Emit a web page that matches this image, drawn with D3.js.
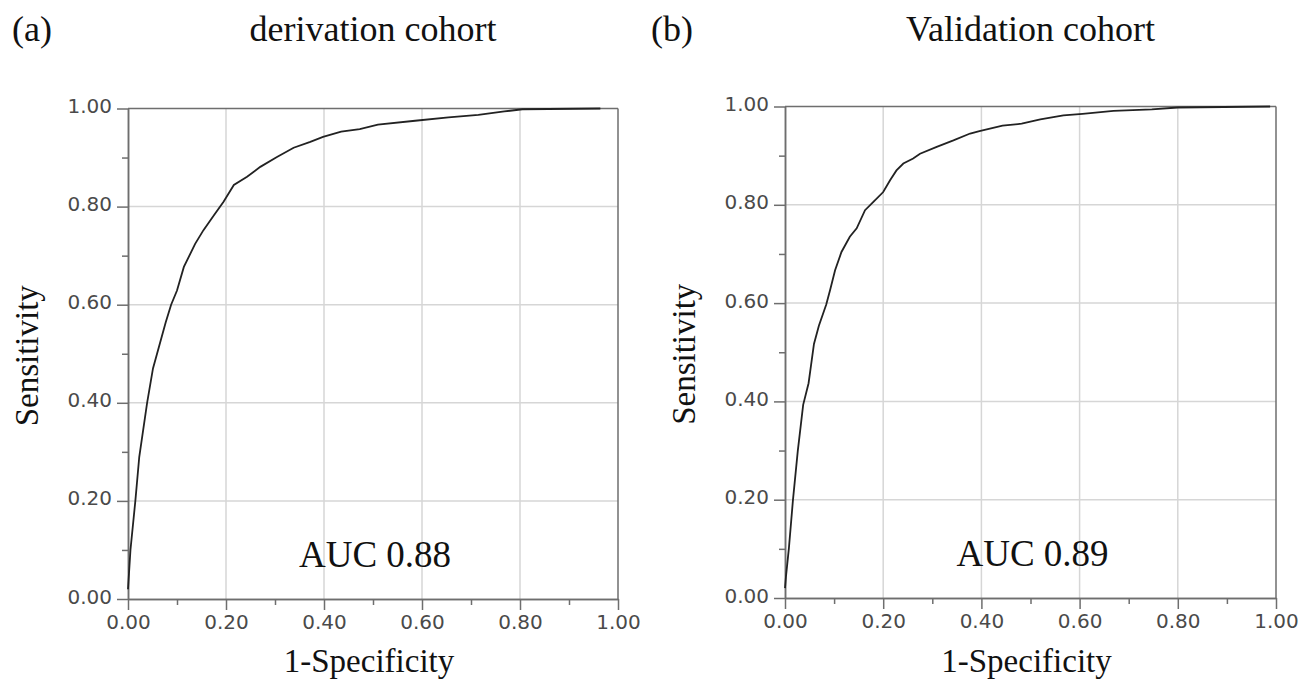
<!DOCTYPE html>
<html>
<head>
<meta charset="utf-8">
<script src="https://cdn.jsdelivr.net/npm/d3@7"></script>
<style>
  body { margin: 0; background: #fff; }
  svg { display: block; }
</style>
</head>
<body>
<svg id="chart" width="1307" height="689"></svg>
<script>
// ROC curve points: 1-specificity (fpr) and sensitivity (tpr)
var derivFpr = [0, 0.005, 0.015, 0.023, 0.039, 0.051, 0.077, 0.088, 0.1, 0.114, 0.137, 0.154, 0.175, 0.195,
  0.216, 0.243, 0.27, 0.304, 0.338, 0.372, 0.398, 0.435, 0.473, 0.51, 0.586, 0.654, 0.715, 0.768, 0.805, 0.964];
var derivTpr = [0.02, 0.1, 0.2, 0.29, 0.4, 0.47, 0.564, 0.6, 0.629, 0.677, 0.724, 0.752, 0.782, 0.81,
  0.844, 0.861, 0.881, 0.901, 0.92, 0.932, 0.942, 0.953, 0.958, 0.967, 0.975, 0.982, 0.987, 0.994, 0.9985, 1.0];

var validFpr = [0, 0.002, 0.008, 0.016, 0.026, 0.037, 0.048, 0.059, 0.069, 0.084, 0.092, 0.102, 0.115, 0.132,
  0.146, 0.163, 0.18, 0.2, 0.214, 0.227, 0.241, 0.261, 0.275, 0.309, 0.343, 0.377, 0.396, 0.443, 0.482, 0.52,
  0.567, 0.606, 0.669, 0.747, 0.8, 0.988];
var validTpr = [0.02, 0.044, 0.102, 0.197, 0.299, 0.393, 0.437, 0.517, 0.554, 0.597, 0.627, 0.667, 0.704, 0.735,
  0.752, 0.789, 0.806, 0.826, 0.85, 0.87, 0.884, 0.894, 0.904, 0.918, 0.931, 0.945, 0.95, 0.961, 0.965, 0.974,
  0.982, 0.985, 0.991, 0.994, 0.998, 1.0];

var panelLetters = ["(a)", "(b)"];
var panelTitles = ["derivation cohort", "Validation cohort"];
var aucLabels = ["AUC 0.88", "AUC 0.89"];
var majorTicks = [0, 0.2, 0.4, 0.6, 0.8, 1.0];
var minorTicks = [0.1, 0.3, 0.5, 0.7, 0.9];
var xLabel = "1-Specificity";
var yLabel = "Sensitivity";

var panels = [
  { fpr: derivFpr, tpr: derivTpr, left: 128, right: 618, top: 108.5, bottom: 599, letterX: 12 },
  { fpr: validFpr, tpr: validTpr, left: 785, right: 1276, top: 106.5, bottom: 598, letterX: 651 }
];

var svg = d3.select("#chart");
var serif = "'Liberation Serif', 'Times New Roman', serif";
var tickFont = "'DejaVu Sans', Verdana, sans-serif";
var axisColor = "#6e6e6e";

panels.forEach(function(p, i) {
  var x = d3.scaleLinear().domain([0, 1]).range([p.left, p.right]);
  var y = d3.scaleLinear().domain([0, 1]).range([p.bottom, p.top]);
  var g = svg.append("g");

  // gridlines
  g.selectAll(".vgrid").data(majorTicks.slice(1, -1)).enter().append("line")
    .attr("x1", function(d) { return x(d); }).attr("x2", function(d) { return x(d); })
    .attr("y1", p.top).attr("y2", p.bottom)
    .style("stroke", "#d6d6d6").style("stroke-width", 1.5);
  g.selectAll(".hgrid").data(majorTicks.slice(1, -1)).enter().append("line")
    .attr("x1", p.left).attr("x2", p.right)
    .attr("y1", function(d) { return y(d); }).attr("y2", function(d) { return y(d); })
    .style("stroke", "#d6d6d6").style("stroke-width", 1.5);

  // frame (top and right)
  g.append("line").attr("x1", p.left).attr("x2", p.right).attr("y1", p.top).attr("y2", p.top)
    .style("stroke", axisColor).style("stroke-width", 1.5);
  g.append("line").attr("x1", p.right).attr("x2", p.right).attr("y1", p.top).attr("y2", p.bottom)
    .style("stroke", axisColor).style("stroke-width", 1.5);

  // axes: major ticks with labels, then minor ticks
  var xAxis = g.append("g").attr("transform", "translate(0," + p.bottom + ")")
    .call(d3.axisBottom(x).tickValues(majorTicks).tickFormat(d3.format(".2f")).tickSizeInner(11).tickSizeOuter(0).tickPadding(5));
  var xMinor = g.append("g").attr("transform", "translate(0," + p.bottom + ")")
    .call(d3.axisBottom(x).tickValues(minorTicks).tickFormat("").tickSizeInner(6).tickSizeOuter(0));
  var yAxis = g.append("g").attr("transform", "translate(" + p.left + ",0)")
    .call(d3.axisLeft(y).tickValues(majorTicks).tickFormat(d3.format(".2f")).tickSizeInner(11).tickSizeOuter(0).tickPadding(5));
  var yMinor = g.append("g").attr("transform", "translate(" + p.left + ",0)")
    .call(d3.axisLeft(y).tickValues(minorTicks).tickFormat("").tickSizeInner(6).tickSizeOuter(0));

  [xAxis, xMinor, yAxis, yMinor].forEach(function(a) {
    a.selectAll("path, line").style("stroke", axisColor).style("stroke-width", 1.5);
    a.selectAll("text").style("font-family", tickFont).style("font-size", "20px").style("fill", "#4a4a4a");
  });
  yAxis.selectAll("text").attr("dy", "0.2em");

  // ROC curve
  var pts = p.fpr.map(function(f, k) { return [f, p.tpr[k]]; });
  g.append("path").datum(pts)
    .attr("d", d3.line().x(function(d) { return x(d[0]); }).y(function(d) { return y(d[1]); }))
    .style("fill", "none").style("stroke", "#222").style("stroke-width", 1.8);

  // AUC label
  g.append("text").attr("x", (p.left + p.right) / 2 + 2).attr("y", p.bottom - 32)
    .attr("text-anchor", "middle").style("font-family", serif).style("font-size", "37px").style("fill", "#111")
    .text(aucLabels[i]);

  // axis titles
  g.append("text").attr("x", (p.left + p.right) / 2 - 4).attr("y", 672)
    .attr("text-anchor", "middle").style("font-family", serif).style("font-size", "33px").style("fill", "#111")
    .text(xLabel);
  g.append("text").attr("transform", "translate(" + (p.left - 90) + "," + ((p.top + p.bottom) / 2 + 2) + ") rotate(-90)")
    .attr("text-anchor", "middle").style("font-family", serif).style("font-size", "33px").style("fill", "#111")
    .text(yLabel);

  // panel letter and title
  svg.append("text").attr("x", p.letterX).attr("y", 41)
    .style("font-family", serif).style("font-size", "36px").style("fill", "#111")
    .text(panelLetters[i]);
  svg.append("text").attr("x", (p.left + p.right) / 2).attr("y", 41)
    .attr("text-anchor", "middle").style("font-family", serif).style("font-size", "36px").style("fill", "#111")
    .text(panelTitles[i]);
});
</script>
</body>
</html>
